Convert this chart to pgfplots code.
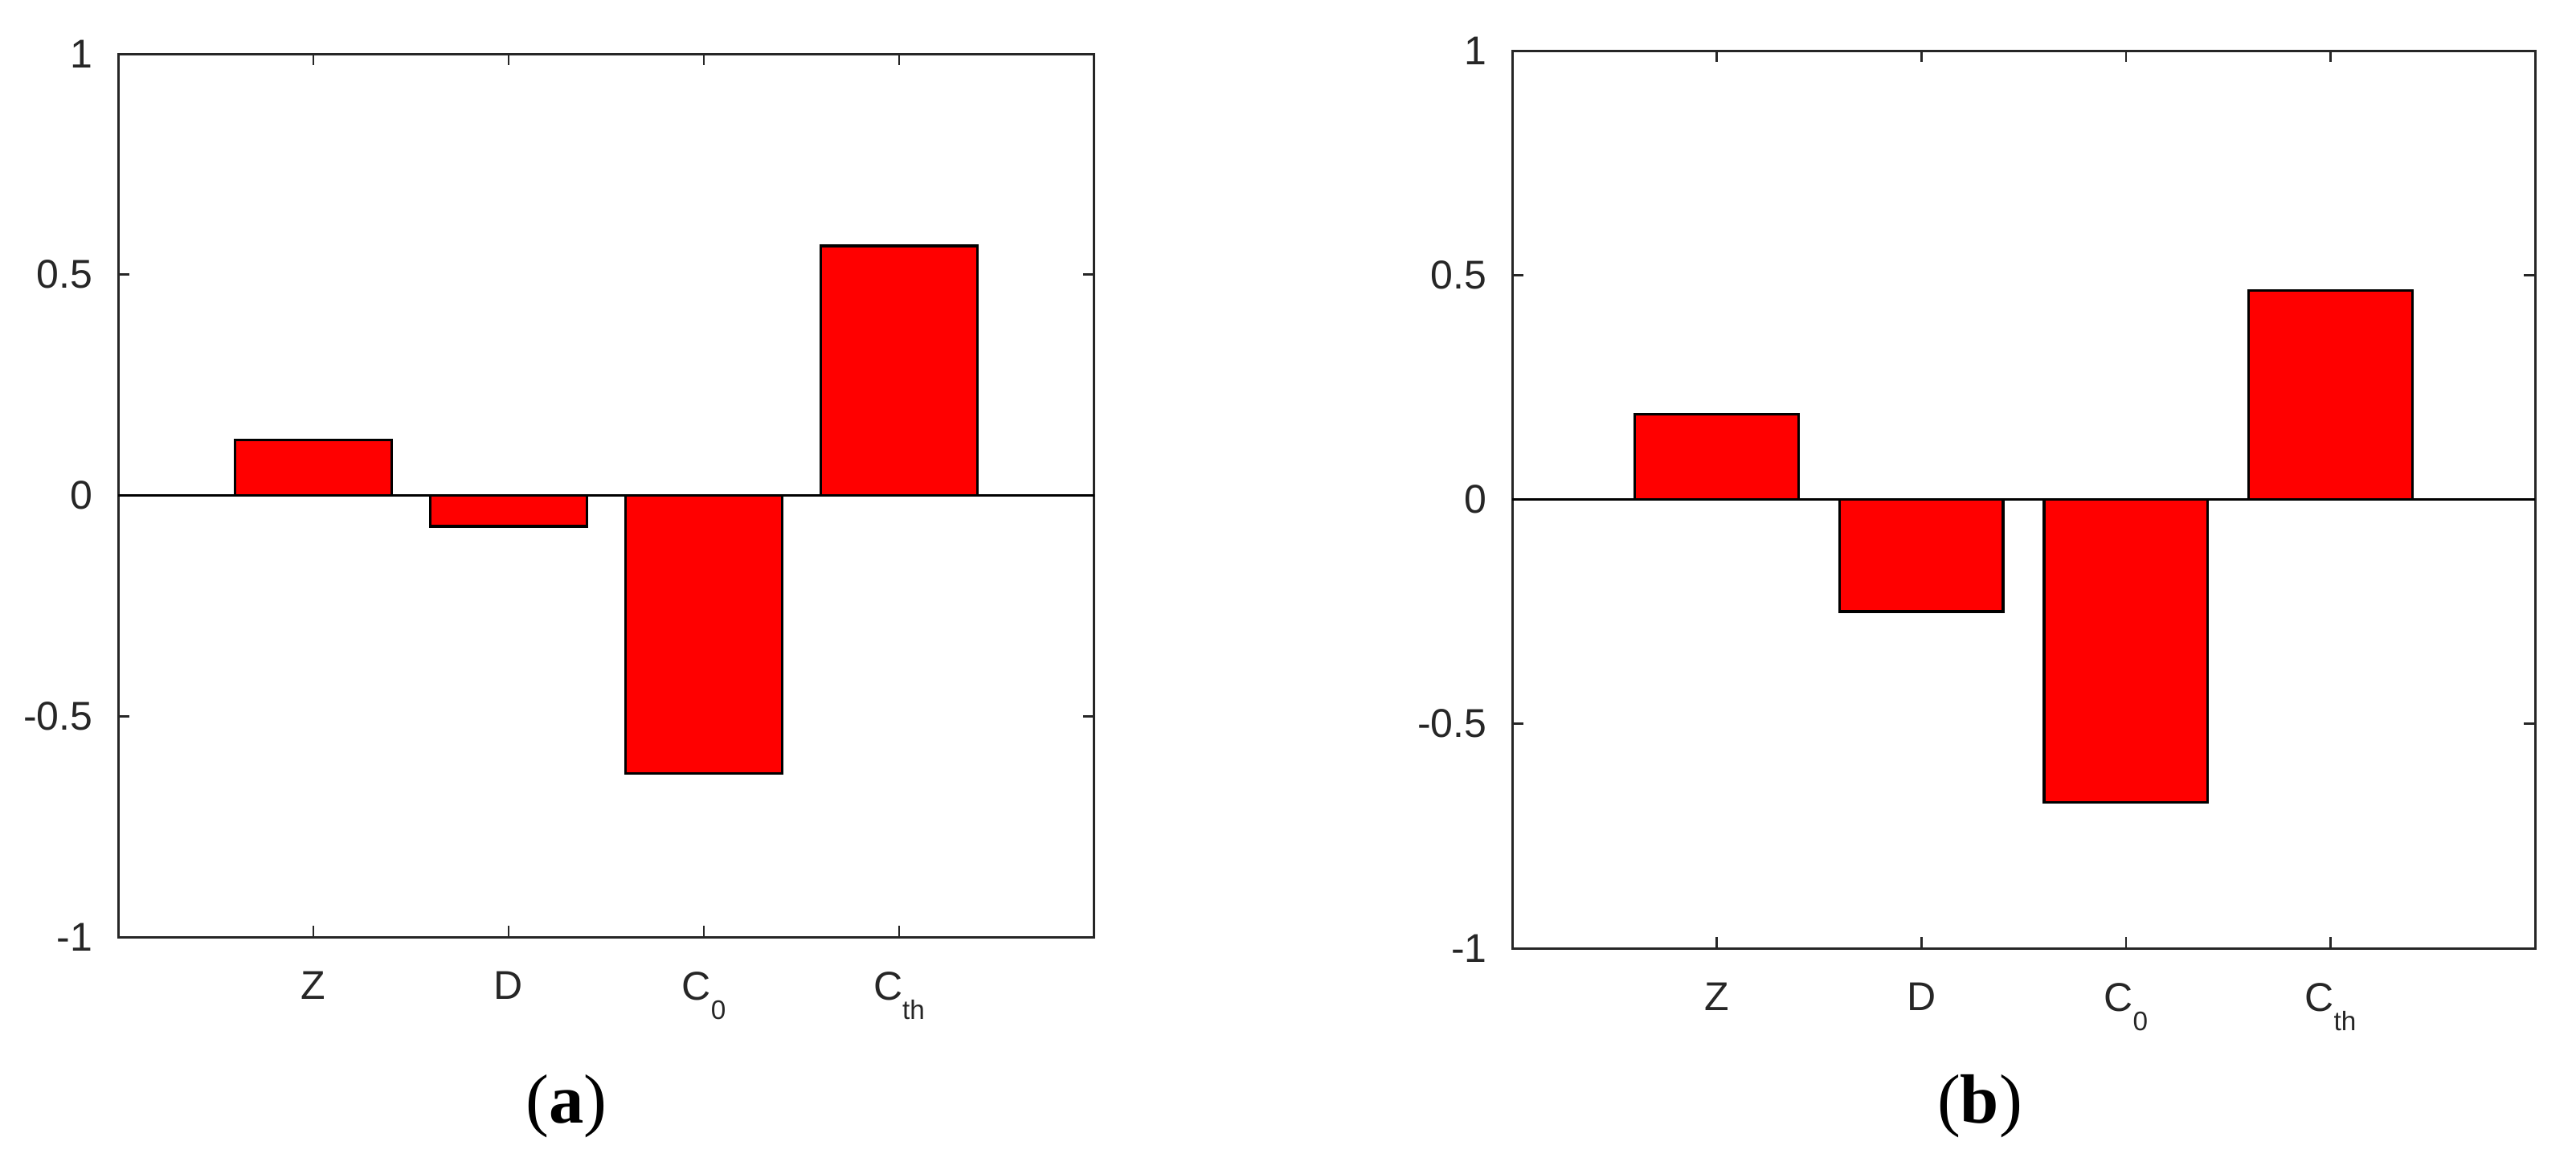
\documentclass[border=0pt]{standalone}
\usepackage{fontspec}
\setmainfont{Liberation Sans}
\newfontfamily\capfont{Liberation Serif}
\usepackage{pgfplots}
\pgfplotsset{compat=1.18}
\definecolor{axisgray}{HTML}{262626}
\newcommand{\sub}[1]{\raisebox{-3.6pt}{\fontsize{5}{6}\selectfont #1}}
\pgfplotsset{
  matlabbar/.style={
    scale only axis,
    xmin=0, xmax=5, ymin=-1, ymax=1,
    xtick={1,2,3,4},
    xticklabels={Z, D, C\sub{0}, C\sub{th}},
    ytick={-1,-0.5,0,0.5,1},
    yticklabels={-1,-0.5,0,0.5,1},
    tick align=inside,
    xtick pos=both, ytick pos=both,
    xticklabel pos=lower, yticklabel pos=left,
    major tick length=2.1pt,
    every tick/.style={axisgray, line width=0.4pt},
    axis line style={axisgray, line width=0.45pt},
    tick label style={font=\fontsize{7.5}{9}\selectfont, text=axisgray},
    xticklabel style={yshift=-3pt},
    yticklabel style={xshift=-1.2pt},
    clip=false,
  }
}
\begin{document}
\begin{tikzpicture}
\useasboundingbox (0,0) rectangle (480.9pt,217.5pt);
\begin{axis}[matlabbar, at={(22.05pt,42.6pt)}, anchor=south west, width=182.25pt, height=164.85pt]
\addplot [black, line width=0.35pt, forget plot] coordinates {(0,0) (5,0)};
\addplot [ybar, bar width=0.8, fill=red, draw=black, line width=0.5pt] coordinates {(1,0.125) (2,-0.07) (3,-0.63) (4,0.565)};
\end{axis}
\begin{axis}[matlabbar, at={(282.3pt,40.5pt)}, anchor=south west, width=190.95pt, height=167.55pt]
\addplot [black, line width=0.35pt, forget plot] coordinates {(0,0) (5,0)};
\addplot [ybar, bar width=0.8, fill=red, draw=black, line width=0.5pt] coordinates {(1,0.19) (2,-0.25) (3,-0.675) (4,0.465)};
\end{axis}
\node[anchor=base, inner sep=0pt, font=\capfont\fontsize{13}{15}\selectfont] at (105.75pt,7.95pt) {(\textbf{a})};
\node[anchor=base, inner sep=0pt, font=\capfont\fontsize{13}{15}\selectfont] at (369.6pt,7.95pt) {(\textbf{b})};
\end{tikzpicture}
\end{document}
